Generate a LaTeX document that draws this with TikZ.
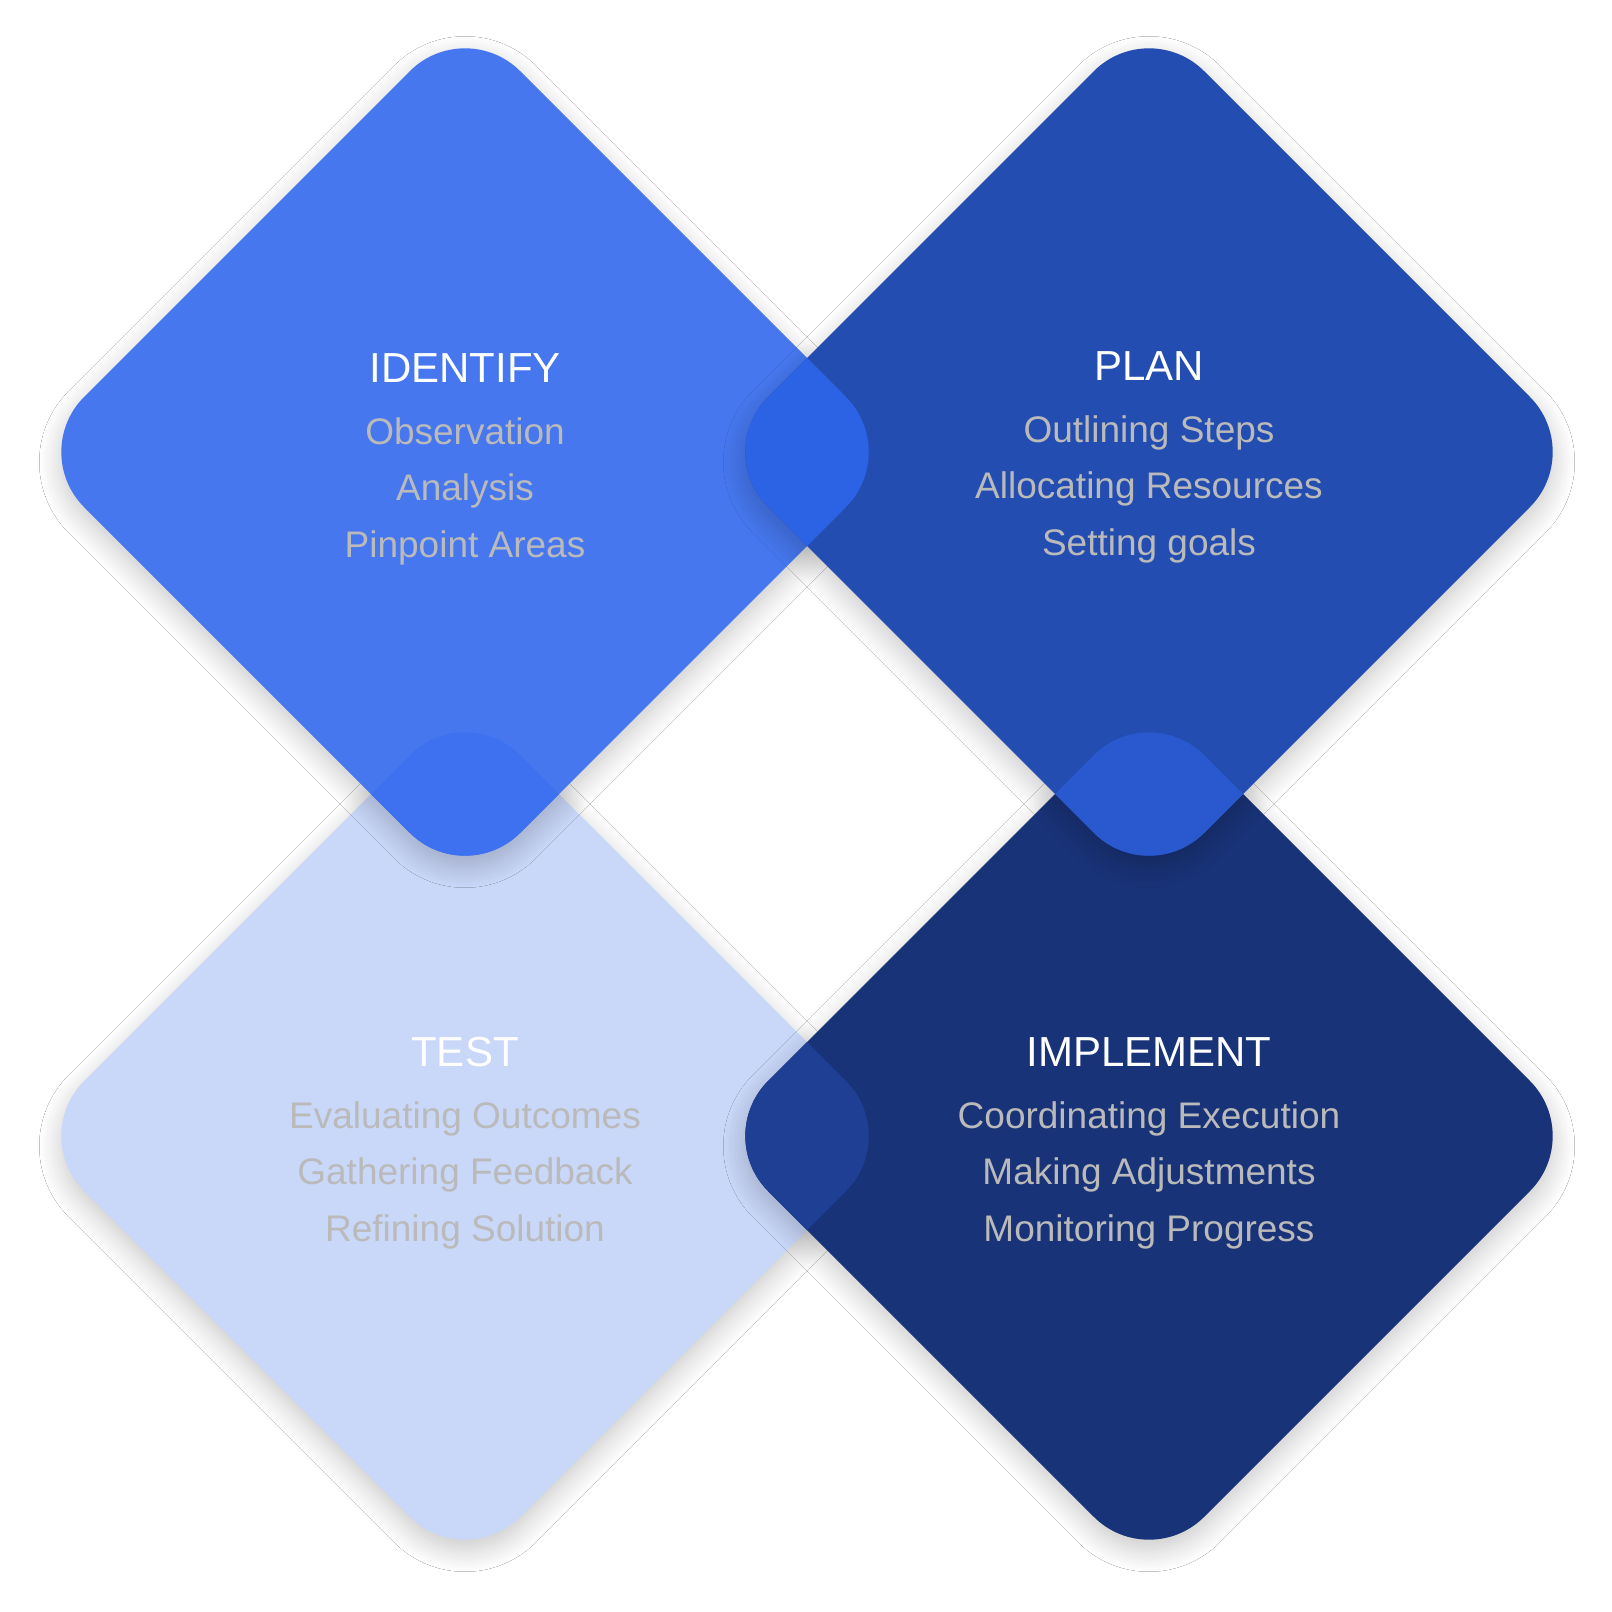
\documentclass[tikz,border=0pt]{standalone}
\usepackage{fontspec}
\setmainfont{Liberation Sans}
\usetikzlibrary{calc}
\usetikzlibrary{shadows.blur}

\definecolor{identcol}{HTML}{4677EE}
\definecolor{plancol}{HTML}{234DB1}
\definecolor{testcol}{HTML}{C9D7F8}
\definecolor{implcol}{HTML}{193378}
\definecolor{lensip}{HTML}{2C62E4}
\definecolor{lensit}{HTML}{3D71EF}
\definecolor{lenspm}{HTML}{2958CF}
\definecolor{lenstm}{HTML}{1F3F94}
\definecolor{itemgray}{HTML}{BABABA}

\tikzset{
	diamond path/.style={rounded corners=39pt,
		insert path={(-218,-218) -- (0,-436) -- (436,0) -- (0,436) -- (-436,0) -- cycle}},
	soft shadow/.style={blur shadow={shadow xshift=0pt, shadow yshift=-5pt,
		shadow blur radius=11pt, shadow blur steps=16, shadow opacity=22}},
	headtext/.style={anchor=base, text=white, font=\fontsize{21pt}{25pt}\selectfont},
	itemtext/.style={anchor=base, text=itemgray, font=\fontsize{18.5pt}{22pt}\selectfont}
}

\begin{document}
\begin{tikzpicture}[x=0.5pt, y=-0.5pt]

						\fill[white] (0,0) rectangle (1612,1612);
						\useasboundingbox (0,0) rectangle (1612,1612);

						\coordinate(ident) at (465, 452);
						\coordinate(plan) at (1149, 452);
						\coordinate(test) at (465, 1136);
						\coordinate(impl) at (1149, 1136);

						% diamonds, back to front
						\fill[testcol, soft shadow, shift={(test)}, diamond path];
						\fill[implcol, soft shadow, shift={(impl)}, diamond path];
						\fill[identcol, soft shadow, shift={(ident)}, diamond path];
						\fill[plancol, soft shadow, shift={(plan)}, diamond path];

						% overlaps
						\begin{scope}
							\clip[shift={(ident)}, diamond path];
							\fill[lensip, shift={(plan)}, diamond path];
							\fill[lensit, shift={(test)}, diamond path];
						\end{scope}
						\begin{scope}
							\clip[shift={(impl)}, diamond path];
							\fill[lenspm, shift={(plan)}, diamond path];
							\fill[lenstm, shift={(test)}, diamond path];
						\end{scope}

						% texts
						\node[headtext] (identhead) at ($(ident)+(0,-70)$) {IDENTIFY};
						\node[itemtext] (ident1) at ($(ident)+(0,-8)$) {Observation};
						\node[itemtext] (ident2) at ($(ident)+(0,48)$) {Analysis};
						\node[itemtext] (ident3) at ($(ident)+(0,105)$) {Pinpoint Areas};

						\node[headtext] (planhead) at ($(plan)+(0,-72)$) {PLAN};
						\node[itemtext] (plan1) at ($(plan)+(0,-10)$) {Outlining Steps};
						\node[itemtext] (plan2) at ($(plan)+(0,46)$) {Allocating Resources};
						\node[itemtext] (plan3) at ($(plan)+(0,103)$) {Setting goals};

						\node[headtext] (testhead) at ($(test)+(0,-70)$) {TEST};
						\node[itemtext] (test1) at ($(test)+(0,-8)$) {Evaluating Outcomes};
						\node[itemtext] (test2) at ($(test)+(0,48)$) {Gathering Feedback};
						\node[itemtext] (test3) at ($(test)+(0,105)$) {Refining Solution};

						\node[headtext] (implhead) at ($(impl)+(0,-70)$) {IMPLEMENT};
						\node[itemtext] (impl1) at ($(impl)+(0,-8)$) {Coordinating Execution};
						\node[itemtext] (impl2) at ($(impl)+(0,48)$) {Making Adjustments};
						\node[itemtext] (impl3) at ($(impl)+(0,105)$) {Monitoring Progress};

					\end{tikzpicture}
\end{document}
